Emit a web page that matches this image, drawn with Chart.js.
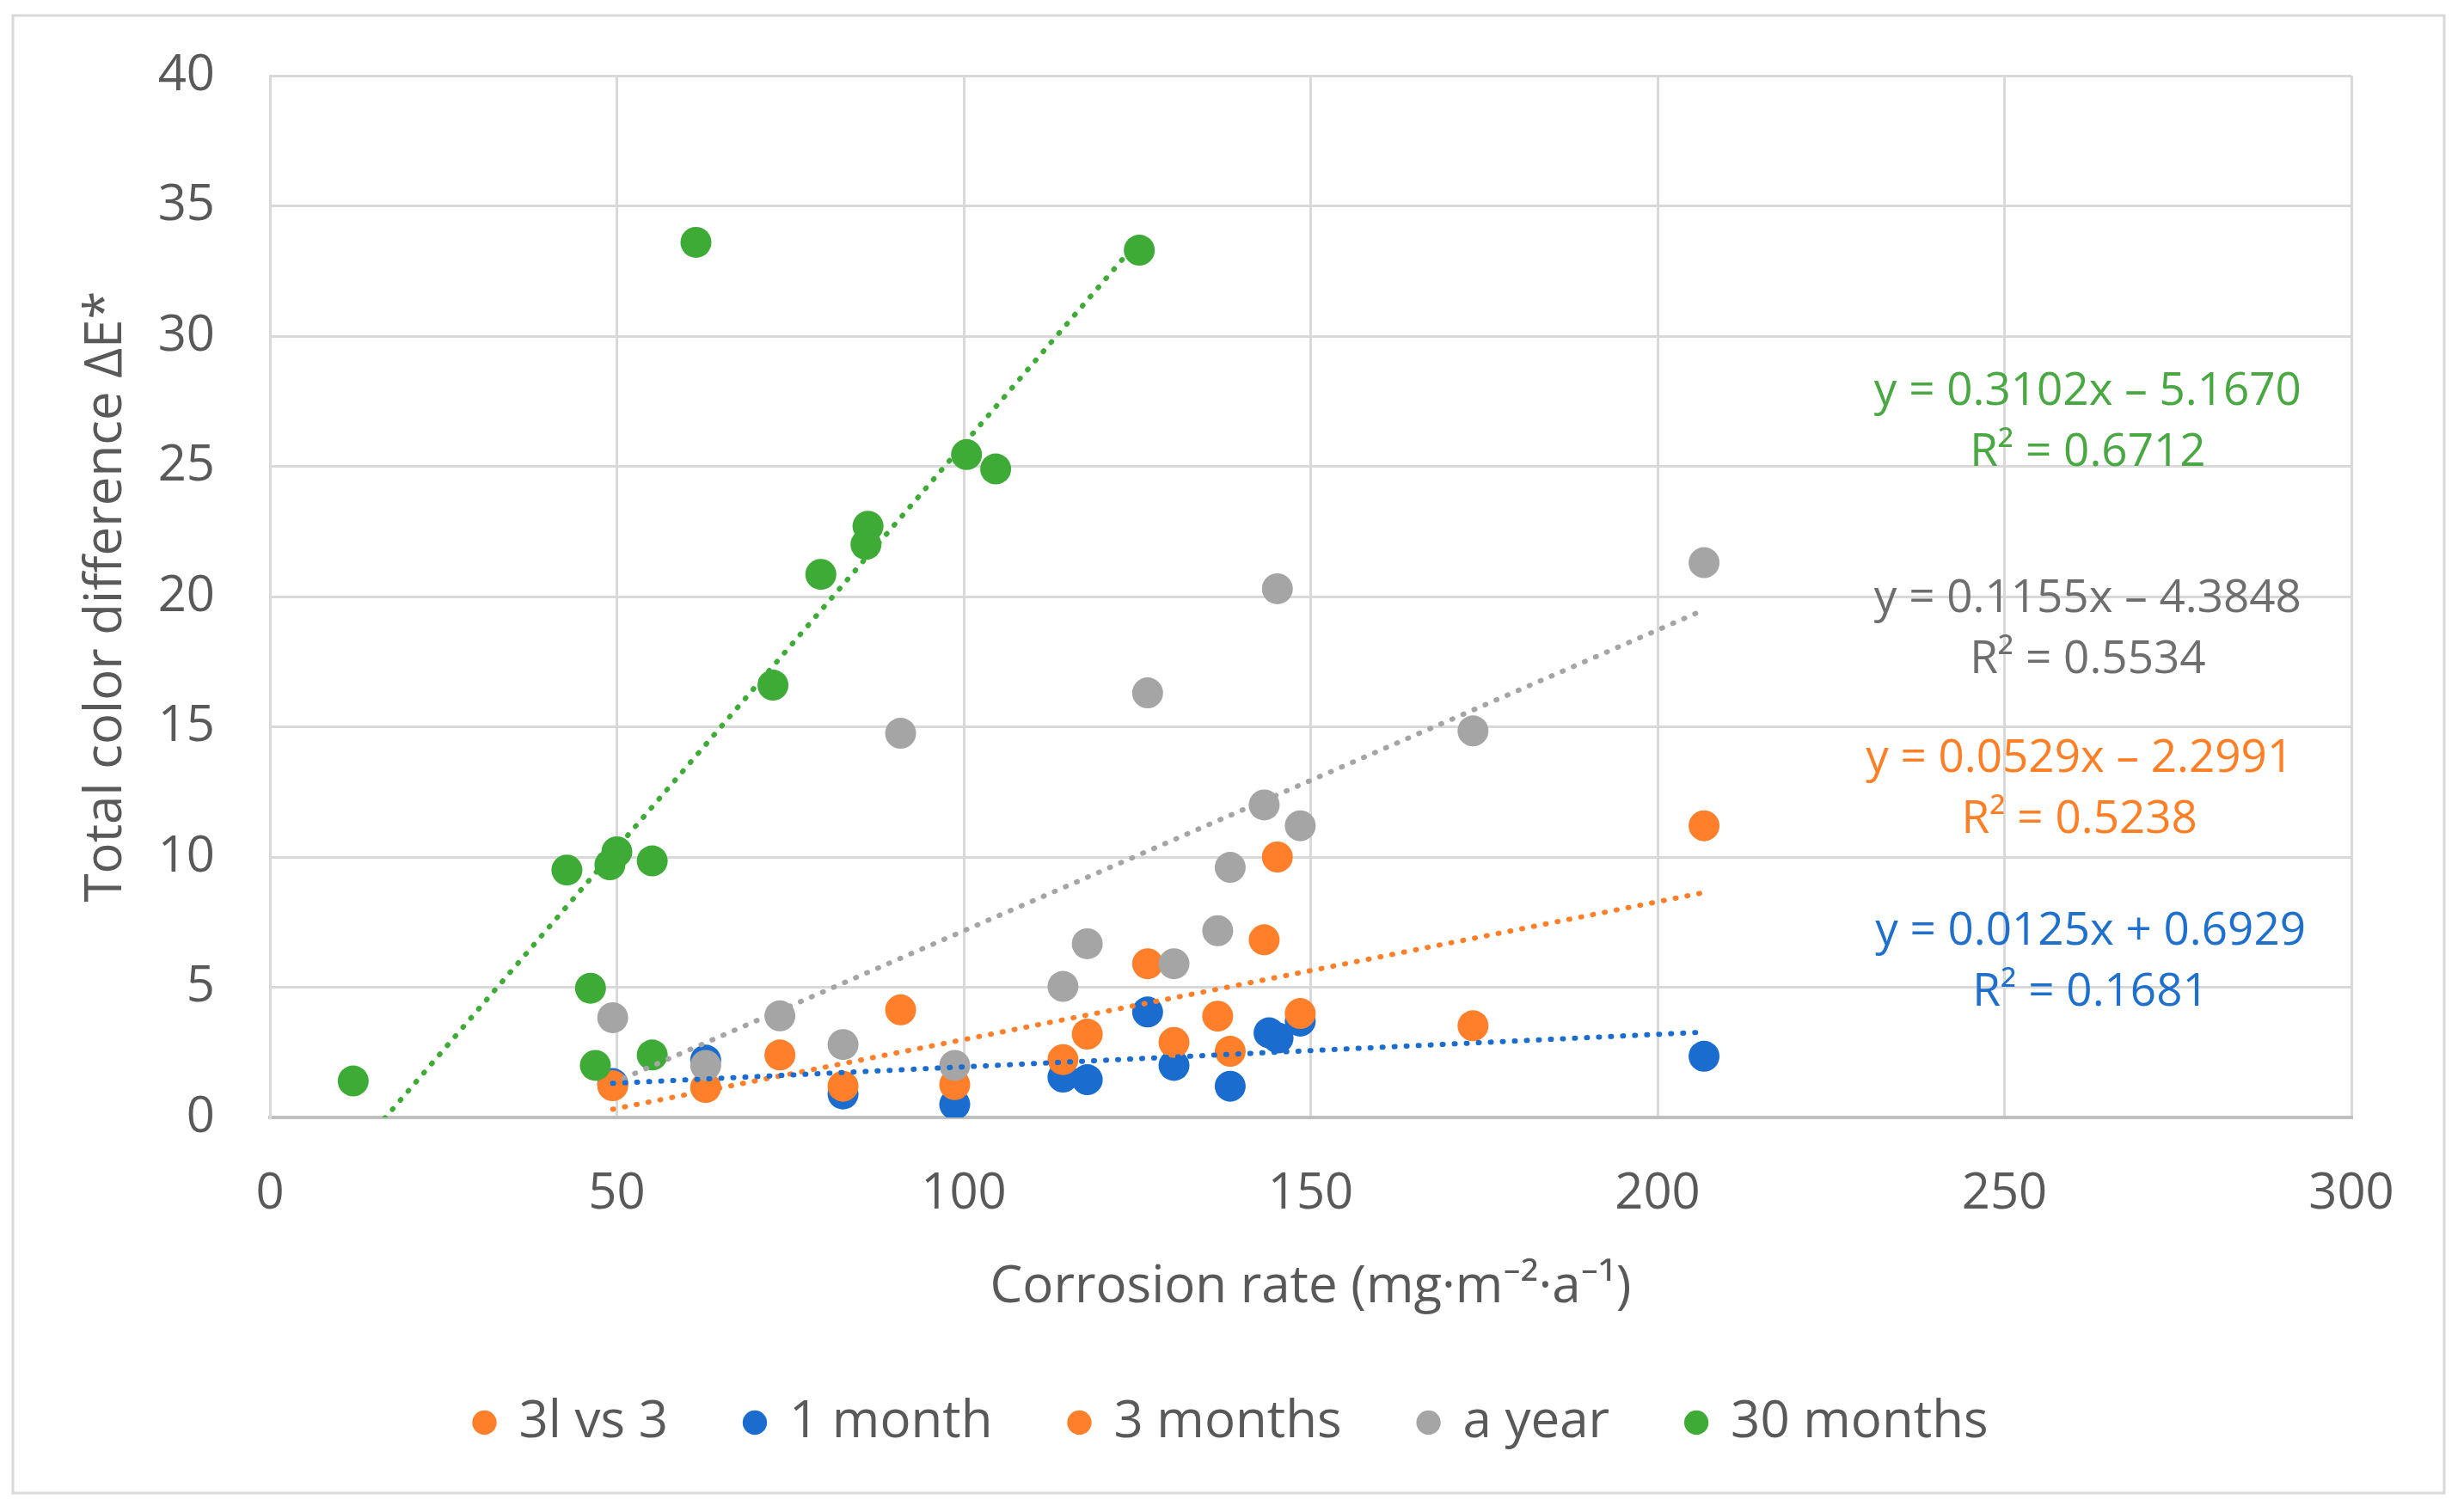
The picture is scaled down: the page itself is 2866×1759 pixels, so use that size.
<!DOCTYPE html>
<html>
<head>
<meta charset="utf-8">
<title>Corrosion rate vs total color difference</title>
<script src="https://cdn.jsdelivr.net/npm/chart.js@4.4.1/dist/chart.umd.min.js"></script>
<style>
    html, body { margin: 0; padding: 0; background: #ffffff; }
    #chart-wrap { position: relative; width: 2866px; height: 1759px; }
</style>
</head>
<body>
<div id="chart-wrap"><canvas id="scatter-chart"></canvas></div>
<script>
// Legend entries, in the order they appear under the chart
const seriesNames = ["3l vs 3", "1 month", "3 months", "a year", "30 months"];

// Axis ticks
const xTickValues = [0, 50, 100, 150, 200, 250, 300];
const yTickValues = [0, 5, 10, 15, 20, 25, 30, 35, 40];

// Corrosion rate (mg·m-2·a-1) and total color difference per series
const lvs3X = [];
const lvs3Y = [];

const month1X = [49.4, 62.8, 82.6, 98.7, 114.3, 117.8, 126.5, 130.3, 138.4, 144.0, 145.3, 148.5, 206.7];
const month1Y = [1.3, 2.2, 0.9, 0.5, 1.55, 1.45, 4.05, 2.0, 1.2, 3.25, 3.05, 3.7, 2.35];

const months3X = [49.4, 62.8, 73.5, 82.6, 90.9, 98.7, 114.3, 117.8, 126.5, 130.3, 136.6, 138.4, 143.3, 145.2, 148.5, 173.4, 206.7];
const months3Y = [1.22, 1.15, 2.4, 1.2, 4.13, 1.26, 2.22, 3.2, 5.9, 2.88, 3.89, 2.54, 6.82, 10.0, 3.99, 3.52, 11.2];

const yearX = [49.4, 62.8, 73.5, 82.6, 90.9, 98.7, 114.3, 117.8, 126.5, 130.3, 136.6, 138.4, 143.3, 145.2, 148.5, 173.4, 206.7];
const yearY = [3.83, 2.0, 3.9, 2.8, 14.75, 2.0, 5.03, 6.67, 16.3, 5.9, 7.17, 9.6, 12.0, 20.3, 11.2, 14.84, 21.3];

const months30X = [12.0, 42.8, 46.2, 46.9, 49.0, 50.0, 55.1, 55.1, 61.4, 72.5, 79.4, 85.9, 86.2, 100.4, 104.6, 125.3];
const months30Y = [1.4, 9.5, 4.96, 2.0, 9.7, 10.2, 9.85, 2.4, 33.6, 16.6, 20.85, 22.0, 22.7, 25.45, 24.9, 33.3];

// Linear trendlines as printed on the chart (1 month, 3 months, a year, 30 months)
const trendSlopes = [0.0125, 0.0529, 0.1155, 0.3102];
const trendIntercepts = [0.6929, -2.2991, -4.3848, -5.1670];
const trendR2 = [0.1681, 0.5238, 0.5534, 0.6712];

const TEXT_COLOR = "#595959";
const FONT_FAMILY = "'Open Sans', 'Noto Sans', sans-serif";

// Marker colors, one per legend entry
const markerColors = ["#ff7f2a", "#1a6ccf", "#ff7f2a", "#a5a5a5", "#3dab36"];
// Equation label colors (1 month, 3 months, a year, 30 months)
const labelColors = ["#1f6fcc", "#ff7f27", "#6e6e6e", "#4aa843"];
// Where each equation label sits, in data units (centre of the first line)
const labelSpots = [
    { x: 262.4, y: 7.12 },
    { x: 260.8, y: 13.76 },
    { x: 262.0, y: 19.91 },
    { x: 262.0, y: 27.87 },
];

document.addEventListener("DOMContentLoaded", function () {
    if (typeof Chart !== "undefined") {
        createScatterChart();
    } else {
        console.warn("Chart.js is not available.");
    }
});

/**
 * Zip two arrays into {x, y} points
 */
function toPoints(xs, ys) {
    return xs.map((x, i) => ({ x: x, y: ys[i] }));
}

/**
 * Two end points of a trendline, over the x range of its series
 */
function trendPoints(xs, k) {
    const lo = Math.min(...xs);
    const hi = Math.max(...xs);
    return [lo, hi].map((x) => ({
        x: x,
        y: trendSlopes[k] * x + trendIntercepts[k],
    }));
}

/**
 * Fix an axis box size and drop the extra label overhang padding
 */
function fixAxisSize(axis, key, size) {
    axis[key] = size;
    axis.paddingTop = 0;
    axis.paddingBottom = 0;
    axis.paddingLeft = 0;
    axis.paddingRight = 0;
}

/**
 * Light frame around the whole chart
 */
const chartFramePlugin = {
    id: "chartFrame",
    beforeDraw(chart) {
        const ctx = chart.ctx;
        ctx.save();
        ctx.fillStyle = "#ffffff";
        ctx.fillRect(0, 0, chart.width, chart.height);
        ctx.strokeStyle = "#d9d9d9";
        ctx.lineWidth = 3;
        ctx.strokeRect(15, 18, 2828, 1719);
        ctx.restore();
    },
};

/**
 * Trendline equations and R² values
 */
const trendLabelPlugin = {
    id: "trendLabels",
    afterDatasetsDraw(chart) {
        const { ctx, scales } = chart;
        ctx.save();
        ctx.font = "53px " + FONT_FAMILY;
        ctx.textAlign = "center";
        ctx.textBaseline = "middle";
        labelSpots.forEach((spot, k) => {
            const px = scales.x.getPixelForValue(spot.x);
            const py = scales.y.getPixelForValue(spot.y);
            const b = trendIntercepts[k];
            const sign = b < 0 ? "–" : "+";
            ctx.fillStyle = labelColors[k];
            ctx.fillText(
                "y = " + trendSlopes[k].toFixed(4) + "x " + sign + " " + Math.abs(b).toFixed(4),
                px,
                py
            );
            ctx.fillText("R² = " + trendR2[k].toFixed(4), px, py + 71);
        });
        ctx.restore();
    },
};

function createScatterChart() {
    const ctx = document.getElementById("scatter-chart");
    if (!ctx) return;

    const pointSeries = [
        [lvs3X, lvs3Y],
        [month1X, month1Y],
        [months3X, months3Y],
        [yearX, yearY],
        [months30X, months30Y],
    ];
    // draw order: green on top, then gray, orange, blue
    const drawOrder = [3, 4, 3, 2, 1];

    const datasets = pointSeries.map((s, i) => ({
        label: seriesNames[i],
        data: toPoints(s[0], s[1]),
        backgroundColor: markerColors[i],
        borderWidth: 0,
        pointRadius: 18,
        pointHoverRadius: 18,
        pointStyle: "circle",
        order: drawOrder[i],
    }));

    // dotted trendlines
    pointSeries.slice(1).forEach((s, k) => {
        datasets.push({
            label: "trend " + seriesNames[k + 1],
            data: trendPoints(s[0], k),
            showLine: true,
            borderColor: markerColors[k + 1],
            borderWidth: 6,
            borderDash: [1, 13],
            borderCapStyle: "round",
            pointRadius: 0,
            fill: false,
            order: 0,
        });
    });

    const tickFont = { family: FONT_FAMILY, size: 58 };
    const titleFont = { family: FONT_FAMILY, size: 60 };

    new Chart(ctx, {
        type: "scatter",
        data: { datasets: datasets },
        options: {
            responsive: true,
            maintainAspectRatio: false,
            animation: false,
            layout: {
                padding: { top: 88, right: 0, bottom: 64, left: 0 },
            },
            scales: {
                x: {
                    type: "linear",
                    min: xTickValues[0],
                    max: xTickValues[xTickValues.length - 1],
                    afterBuildTicks: (axis) => {
                        axis.ticks = xTickValues.map((v) => ({ value: v }));
                    },
                    afterFit: (axis) => fixAxisSize(axis, "height", 234),
                    ticks: { padding: 55, color: TEXT_COLOR, font: tickFont },
                    grid: { color: "#d9d9d9", lineWidth: 3, drawTicks: false },
                    border: { color: "#bfbfbf", width: 4 },
                    title: {
                        display: true,
                        text: "Corrosion rate (mg·m⁻²·a⁻¹)",
                        color: TEXT_COLOR,
                        font: titleFont,
                        padding: { top: 0, bottom: 0 },
                    },
                },
                y: {
                    type: "linear",
                    min: yTickValues[0],
                    max: yTickValues[yTickValues.length - 1],
                    afterBuildTicks: (axis) => {
                        axis.ticks = yTickValues.map((v) => ({ value: v }));
                    },
                    afterFit: (axis) => fixAxisSize(axis, "width", 314),
                    ticks: { padding: 64, color: TEXT_COLOR, font: tickFont },
                    grid: { color: "#d9d9d9", lineWidth: 3, drawTicks: false },
                    border: { color: "#d9d9d9", width: 3 },
                    title: {
                        display: true,
                        text: "Total color difference ΔE*",
                        color: TEXT_COLOR,
                        font: titleFont,
                        padding: { top: 88, bottom: 0 },
                    },
                },
                // empty axis that only reserves the right margin
                yRight: {
                    type: "linear",
                    position: "right",
                    display: true,
                    afterFit: (axis) => fixAxisSize(axis, "width", 131),
                    ticks: { display: false },
                    grid: { display: false, drawTicks: false },
                    border: { display: false },
                },
            },
            plugins: {
                legend: {
                    position: "bottom",
                    labels: {
                        usePointStyle: true,
                        boxWidth: 20,
                        boxHeight: 20,
                        padding: 91,
                        color: TEXT_COLOR,
                        font: titleFont,
                        filter: (item) => item.datasetIndex < seriesNames.length,
                        sort: (a, b) => a.datasetIndex - b.datasetIndex,
                    },
                },
                tooltip: { enabled: false },
            },
        },
        plugins: [chartFramePlugin, trendLabelPlugin],
    });
}
</script>
</body>
</html>
